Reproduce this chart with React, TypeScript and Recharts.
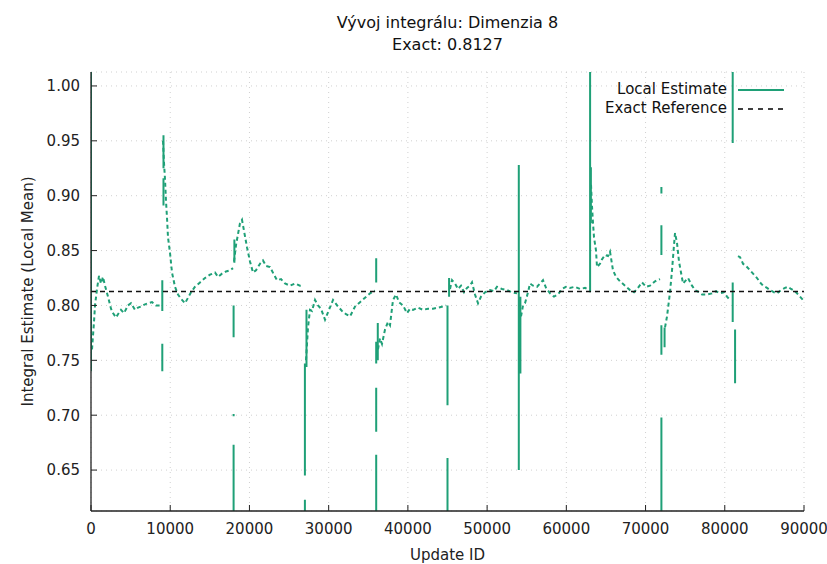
import React from 'react'
import { CartesianGrid, Legend, Line, LineChart, XAxis, YAxis } from 'recharts'

const exactValue = 0.8127
const xTicks = [0, 10000, 20000, 30000, 40000, 50000, 60000, 70000, 80000, 90000]
const yTicks = [0.65, 0.7, 0.75, 0.8, 0.85, 0.9, 0.95, 1.0]

// local mean per restart block: [update id, estimate]
const block0 = [[126, 0.76], [379, 0.785], [505, 0.8], [757, 0.815], [1010, 0.827], [1262, 0.82], [1515, 0.826], [1767, 0.818], [2146, 0.808], [2525, 0.797], [2777, 0.793], [3156, 0.789], [3408, 0.792], [3787, 0.796], [4166, 0.793], [4671, 0.8], [5049, 0.802], [5554, 0.796], [5933, 0.798], [6312, 0.799], [6816, 0.801], [7195, 0.802], [7700, 0.803], [8205, 0.8], [8710, 0.8]]
const block1 = [[9089, 0.95], [9215, 0.93], [9341, 0.915], [9467, 0.895], [9593, 0.88], [9720, 0.862], [9972, 0.848], [10225, 0.83], [10603, 0.817], [10982, 0.81], [11361, 0.806], [11866, 0.802], [12244, 0.807], [12623, 0.812], [13128, 0.817], [13759, 0.821], [14390, 0.825], [15021, 0.828], [15652, 0.83], [16031, 0.826], [16536, 0.829], [17041, 0.831], [17546, 0.832], [17925, 0.834]]
const block2 = [[18051, 0.84], [18303, 0.855], [18556, 0.865], [18808, 0.875], [19060, 0.878], [19313, 0.868], [19692, 0.853], [20071, 0.84], [20449, 0.83], [20828, 0.832], [21333, 0.838], [21712, 0.841], [22090, 0.836], [22595, 0.835], [23100, 0.828], [23479, 0.823], [23984, 0.824], [24489, 0.82], [25120, 0.818], [25751, 0.82], [26382, 0.818], [26761, 0.818]]
const block3 = [[27139, 0.75], [27392, 0.78], [27644, 0.796], [27897, 0.795], [28275, 0.805], [28654, 0.8], [29033, 0.797], [29538, 0.787], [30043, 0.796], [30548, 0.805], [31179, 0.799], [31684, 0.795], [32189, 0.792], [32694, 0.79], [33325, 0.799], [33956, 0.803], [34587, 0.807], [35218, 0.811], [35849, 0.8135]]
const block4 = [[36228, 0.76], [36480, 0.77], [36733, 0.765], [37112, 0.778], [37491, 0.785], [37743, 0.782], [38122, 0.805], [38501, 0.81], [38880, 0.803], [39384, 0.8], [39889, 0.793], [40268, 0.797], [40647, 0.796], [41277, 0.798], [41908, 0.796], [42540, 0.797], [43171, 0.797], [43802, 0.798], [44433, 0.799], [44812, 0.8]]
const block5 = [[45317, 0.815], [45569, 0.823], [45948, 0.82], [46327, 0.815], [46705, 0.818], [47084, 0.812], [47463, 0.816], [47842, 0.818], [48094, 0.821], [48473, 0.81], [48852, 0.802], [49230, 0.808], [49735, 0.812], [50366, 0.814], [50871, 0.813], [51250, 0.817], [51881, 0.815], [52512, 0.814], [53143, 0.812], [53774, 0.811]]
const block6 = [[54279, 0.79], [54531, 0.8], [54784, 0.802], [55162, 0.812], [55415, 0.82], [55794, 0.818], [56299, 0.817], [56677, 0.82], [57056, 0.823], [57435, 0.816], [57940, 0.811], [58444, 0.808], [58949, 0.81], [59454, 0.815], [59959, 0.817], [60464, 0.816], [61095, 0.817], [61726, 0.815], [62357, 0.816], [62862, 0.814]]
const block7 = [[63115, 0.91], [63241, 0.89], [63367, 0.875], [63494, 0.862], [63746, 0.85], [63872, 0.835], [64251, 0.838], [64503, 0.842], [64882, 0.846], [65261, 0.845], [65513, 0.849], [65892, 0.832], [66271, 0.826], [66776, 0.822], [67407, 0.818], [68038, 0.814], [68543, 0.812], [69048, 0.816], [69553, 0.821], [70058, 0.817], [70562, 0.818], [71193, 0.822], [71824, 0.824]]
const block8 = [[72456, 0.78], [72708, 0.79], [73087, 0.812], [73339, 0.832], [73592, 0.855], [73718, 0.866], [73970, 0.857], [74223, 0.84], [74475, 0.83], [74728, 0.82], [75107, 0.823], [75359, 0.825], [75864, 0.818], [76243, 0.814], [76747, 0.812], [77126, 0.81], [77757, 0.81], [78388, 0.811], [78893, 0.813], [79398, 0.811], [79903, 0.812], [80281, 0.808], [80660, 0.805]]
const block9 = [[81670, 0.845], [81923, 0.844], [82302, 0.838], [82680, 0.836], [83185, 0.832], [83690, 0.828], [84069, 0.825], [84448, 0.821], [84826, 0.818], [85331, 0.816], [85710, 0.814], [86215, 0.812], [86593, 0.811], [87098, 0.814], [87603, 0.816], [87982, 0.817], [88361, 0.815], [88866, 0.813], [89371, 0.809], [89876, 0.805]]

// jumps at restarts: [update id, low, high]
const jumps = [
    [0, 0.74, 1.02],
    [9000, 0.74, 0.765], [9000, 0.795, 0.823], [9150, 0.925, 0.955], [9150, 0.891, 0.916],
    [18000, 0.6, 0.673], [18000, 0.699, 0.701], [18000, 0.771, 0.8], [18100, 0.839, 0.86],
    [27000, 0.6, 0.623], [27000, 0.645, 0.747], [27200, 0.744, 0.796],
    [36000, 0.6, 0.664], [36000, 0.685, 0.725], [36000, 0.747, 0.767], [36000, 0.821, 0.843], [36200, 0.75, 0.784],
    [45000, 0.6, 0.661], [45000, 0.709, 0.8], [45200, 0.808, 0.825],
    [54000, 0.65, 0.928], [54200, 0.738, 0.808],
    [63000, 0.812, 1.02], [63100, 0.875, 0.926],
    [72000, 0.6, 0.698], [72000, 0.755, 0.782], [72000, 0.846, 0.873], [72000, 0.902, 0.908], [72400, 0.762, 0.78],
    [81000, 0.948, 1.02], [81000, 0.785, 0.821], [81300, 0.729, 0.778],
]

const blocks = [block0, block1, block2, block3, block4, block5, block6, block7, block8, block9]

const curveData: { id: number; est: number | null }[] = []
blocks.forEach((b) => {
    b.forEach(([id, est]) => curveData.push({ id, est }))
    curveData.push({ id: b[b.length - 1][0] + 1, est: null })
})

const jumpData: { id: number; est: number | null }[] = []
jumps.forEach(([id, lo, hi]) => {
    jumpData.push({ id, est: lo }, { id, est: hi }, { id, est: null })
})

const refData = [
    { id: 0, ref: exactValue },
    { id: 90000, ref: exactValue },
]

const green = '#1fa077'
const font = 'DejaVu Sans'
const axisColor = '#222'

const ChartLegend = () => (
    <div style={{ fontFamily: font, fontSize: 15, lineHeight: '19px', color: '#111' }}>
        {[
            { label: 'Local Estimate', stroke: green, dash: undefined },
            { label: 'Exact Reference', stroke: '#000', dash: '5 5' },
        ].map((it) => (
            <div key={it.label} style={{ display: 'flex', alignItems: 'center', height: 19 }}>
                <span style={{ width: 167, textAlign: 'right', whiteSpace: 'nowrap' }}>{it.label}</span>
                <svg height={4} style={{ marginLeft: 11 }} width={46}>
                    <line stroke={it.stroke} strokeDasharray={it.dash} strokeWidth={it.dash ? 1.3 : 2} x1={0} x2={46} y1={2} y2={2} />
                </svg>
            </div>
        ))}
    </div>
)

export default function App() {
    return (
        <div style={{ position: 'absolute', left: 0, top: 0, width: 827, height: 564, background: '#fff', fontFamily: font }}>
            <div style={{ position: 'absolute', left: 91, top: 12, width: 713, textAlign: 'center', fontSize: 16, lineHeight: '22px', color: '#111' }}>
                <div>Vývoj integrálu: Dimenzia 8</div>
                <div>Exact: 0.8127</div>
            </div>
            <LineChart height={564} margin={{ bottom: 13, left: 31, right: 23, top: 72 }} width={827}>
                <CartesianGrid stroke="#d0d0d0" strokeDasharray="1 4" />
                <XAxis
                    allowDataOverflow
                    axisLine={{ stroke: axisColor, strokeWidth: 1.3 }}
                    dataKey="id"
                    domain={[0, 90000]}
                    height={40}
                    label={{ value: 'Update ID', position: 'bottom', offset: -2, fill: '#222', fontSize: 15, fontFamily: font }}
                    tick={{ fill: '#222', fontSize: 15, fontFamily: font }}
                    tickLine={{ stroke: axisColor }}
                    tickMargin={18}
                    tickSize={-6}
                    ticks={xTicks}
                    type="number"
                />
                <XAxis
                    allowDataOverflow
                    axisLine={{ stroke: axisColor, strokeWidth: 1.3 }}
                    dataKey="id"
                    domain={[0, 90000]}
                    height={0}
                    orientation="top"
                    tick={false}
                    tickLine={{ stroke: axisColor }}
                    tickSize={-6}
                    ticks={xTicks}
                    type="number"
                    xAxisId="top"
                />
                <YAxis
                    allowDataOverflow
                    axisLine={{ stroke: axisColor, strokeWidth: 1.3 }}
                    domain={[0.6127, 1.0127]}
                    label={{ value: 'Integral Estimate (Local Mean)', angle: -90, position: 'insideLeft', offset: -3, fill: '#222', fontSize: 15, fontFamily: font, style: { textAnchor: 'middle' } }}
                    tick={{ fill: '#222', fontSize: 15, fontFamily: font }}
                    tickFormatter={(v: number) => v.toFixed(2)}
                    tickLine={{ stroke: axisColor }}
                    tickMargin={17}
                    tickSize={-6}
                    ticks={yTicks}
                    type="number"
                    width={60}
                />
                <YAxis
                    allowDataOverflow
                    axisLine={{ stroke: axisColor, strokeWidth: 1.3 }}
                    domain={[0.6127, 1.0127]}
                    orientation="right"
                    tick={false}
                    tickLine={{ stroke: axisColor }}
                    tickSize={-6}
                    ticks={yTicks}
                    type="number"
                    width={0}
                    yAxisId="right"
                />
                <Legend content={ChartLegend} layout="horizontal" verticalAlign="middle" wrapperStyle={{ position: 'absolute', left: 560, top: 80, width: 240 }} />
                <Line connectNulls={false} data={curveData} dataKey="est" dot={false} isAnimationActive={false} legendType="none" stroke={green} strokeDasharray="4 3" strokeWidth={2} />
                <Line connectNulls={false} data={jumpData} dataKey="est" dot={false} isAnimationActive={false} legendType="none" stroke={green} strokeWidth={2} />
                <Line data={refData} dataKey="ref" dot={false} isAnimationActive={false} legendType="none" stroke="#111" strokeDasharray="5 4" strokeWidth={1.3} />
            </LineChart>
        </div>
    )
}
